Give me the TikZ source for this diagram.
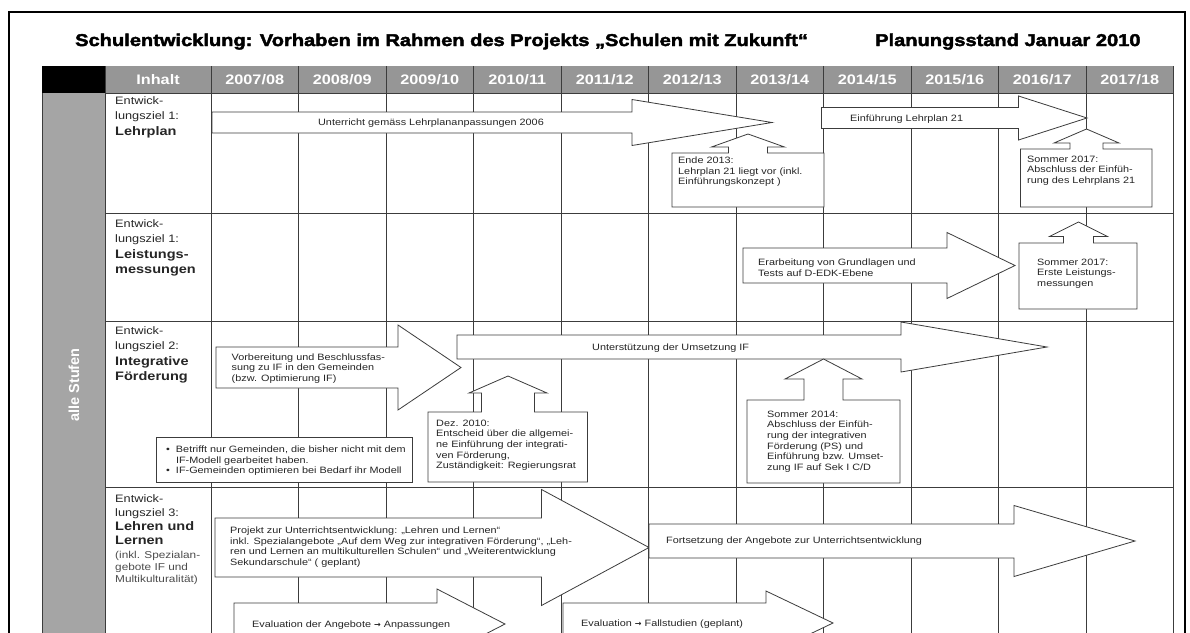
\documentclass[tikz,border=0pt]{standalone}
\usepackage{fontspec}
\setmainfont{Liberation Sans}[FakeStretch=1.18]
\newfontfamily\titelfont{Liberation Sans}[FakeStretch=1.18,BoldFeatures={FakeBold=2.5}]
\newfontfamily\stufenfont{Liberation Sans}
\newfontfamily\pfeilfont{DejaVu Sans}

\definecolor{kopfgrau}{HTML}{969696}
\definecolor{spaltgrau}{HTML}{A5A5A5}
\definecolor{linie}{HTML}{3C3C3C}
\definecolor{schrift}{HTML}{262626}

%% right arrow: start, head base, tip, middle, half body, half head
\newcommand{\pfeil}[6]{%
  \draw[pfeil] (#1,{#4-#5}) -- (#2,{#4-#5}) -- (#2,{#4-#6}) -- (#3,#4)
    -- (#2,{#4+#6}) -- (#2,{#4+#5}) -- (#1,{#4+#5}) -- cycle;}
%% box with arrow up: left, top, right, bottom, stem middle, half stem, half head, head base, tip
\newcommand{\hinweis}[9]{%
  \draw[pfeil] (#1,#2) -- ({#5-#6},#2) -- ({#5-#6},#8) -- ({#5-#7},#8) -- (#5,#9)
    -- ({#5+#7},#8) -- ({#5+#6},#8) -- ({#5+#6},#2) -- (#3,#2) -- (#3,#4) -- (#1,#4) -- cycle;}
\newcommand{\zb}[1]{{\bfseries\fontsize{12.3}{15.5}\selectfont #1}}
\newcommand{\pf}{{\pfeilfont\bfseries\fontsize{8}{10}\selectfont →}}

\tikzset{
  pfeil/.style={draw=linie, fill=white, line width=0.8pt},
  gitter/.style={draw=linie, line width=0.7pt},
  kopf/.style={text=white, inner sep=0pt, font=\bfseries\fontsize{13.8}{14}\selectfont},
  ziel/.style={anchor=north west, inner sep=0pt, align=left, text=schrift, font=\fontsize{10.8}{15.5}\selectfont},
  klein/.style={inner sep=0pt, align=left, text=schrift, font=\fontsize{9.2}{10.6}\selectfont},
  titel/.style={anchor=base west, inner sep=0pt, font=\titelfont\bfseries\fontsize{17}{20}\selectfont},
}

\begin{document}
\begin{tikzpicture}[x=1pt, y=-1pt]
\useasboundingbox (0,0) rectangle (1190,632);
\fill[white] (0,0) rectangle (1190,632);

%% title
\node[titel] (titel) at (75,46) {Schulentwicklung: Vorhaben im Rahmen des Projekts „Schulen mit Zukunft“};
\node[titel] (stand) at (875,46) {Planungsstand Januar 2010};

%% header row and left column
\fill[kopfgrau] (105,66) rectangle (1173.5,93);
\fill[black] (42,66) rectangle (105,93);
\fill[spaltgrau] (42,93) rectangle (105,640);
\draw[linie, line width=0.7pt] (42,93) -- (42,640);

%% grid
\draw[gitter] (105,66) -- (105,640);
\foreach \i in {0,...,11}
  \draw[gitter] ({211+87.5*\i},66) -- ({211+87.5*\i},640);
\foreach \y in {93,213,321,487}
  \draw[gitter] (105,\y) -- (1173.5,\y);

%% header texts
\node[kopf] (inhalt) at (158,79.5) {Inhalt};
\foreach \j [count=\i] in {2007/08,2008/09,2009/10,2010/11,2011/12,2012/13,2013/14,2014/15,2015/16,2016/17,2017/18}
  \node[kopf] (jahr\i) at ({211+87.5*\i-43.75},79.5) {\j};

%% left column
\node[rotate=90, inner sep=0pt, text=white, font=\stufenfont\bfseries\fontsize{14.5}{15}\selectfont] (stufen) at (74,385) {alle Stufen};

%% row labels
\node[ziel] (ziel1) at (115,96) {Entwick-\\lungsziel 1:\\\zb{Lehrplan}};
\node[ziel] (ziel2) at (115,219) {Entwick-\\lungsziel 1:\\\zb{Leistungs-}\\\zb{messungen}};
\node[ziel] (ziel3) at (115,326) {Entwick-\\lungsziel 2:\\\zb{Integrative}\\\zb{Förderung}};
\node[ziel, font=\fontsize{10.8}{14}\selectfont] (ziel4) at (115,494) {Entwick-\\lungsziel 3:\\\zb{Lehren und}\\\zb{Lernen}};
\node[ziel, text=black!70, font=\fontsize{10}{12}\selectfont] (ziel4b) at (115,551.3) {(inkl. Spezialan-\\gebote IF und\\Multikulturalität)};

%% arrows
\pfeil{212}{632}{772}{122.5}{10.5}{23}        %% Lehrplan 2006
\pfeil{821.5}{1018.5}{1087}{118}{10.5}{22}    %% Lehrplan 21
\pfeil{743}{947}{1015}{265.5}{17.5}{33}       %% Erarbeitung
\pfeil{216}{398}{461}{367.5}{20.5}{42.5}      %% Vorbereitung
\pfeil{457}{901}{1047}{347}{12}{25}           %% Unterstuetzung
\pfeil{215}{541.5}{649}{547.5}{29.5}{58}      %% Projekt
\pfeil{649}{1014}{1135}{541}{17}{35.5}        %% Fortsetzung
\pfeil{234}{437}{505}{624}{21}{35}            %% Evaluation 1
\pfeil{563}{766}{833}{623}{20}{32}            %% Evaluation 2

%% boxes
\hinweis{672}{153}{824}{207}{748}{19.5}{36.5}{147}{134}        %% Ende 2013
\hinweis{1020.5}{149}{1152}{207}{1086.5}{16.5}{32.5}{143}{129} %% Sommer 2017
\hinweis{1019}{243}{1137}{309}{1078.5}{15}{29}{236.5}{222}     %% Sommer 2017
\hinweis{428}{412}{587.5}{482}{508}{26.5}{39}{393}{376}        %% Dez. 2010
\hinweis{747}{400}{900}{483}{823.5}{19.5}{38.5}{379}{359}      %% Sommer 2014
\draw[pfeil] (156,437) rectangle (412.5,482);                   %% Gemeinden

%% texts
\node[klein, anchor=base] (t1) at (431,125.8) {Unterricht gemäss Lehrplananpassungen 2006};
\node[klein, anchor=base west] (t2) at (850,121.3) {Einführung Lehrplan 21};
\node[klein, anchor=north west] (t3) at (678,156.6) {Ende 2013:\\Lehrplan 21 liegt vor (inkl.\\Einführungskonzept )};
\node[klein, anchor=north west] (t4) at (1027,155.6) {Sommer 2017:\\Abschluss der Einfüh-\\rung des Lehrplans 21};
\node[klein, anchor=north west] (t5) at (758,258.6) {Erarbeitung von Grundlagen und\\Tests auf D-EDK-Ebene};
\node[klein, anchor=north west] (t6) at (1037,258.6) {Sommer 2017:\\Erste Leistungs-\\messungen};
\node[klein, anchor=north west] (t7) at (231.5,353.3) {Vorbereitung und Beschlussfas-\\sung zu IF in den Gemeinden\\(bzw. Optimierung IF)};
\node[klein, anchor=base west] (t8) at (592,350.3) {Unterstützung der Umsetzung IF};
\node[klein, anchor=north west] (t9) at (436,419.6) {Dez. 2010:\\Entscheid über die allgemei-\\ne Einführung der integrati-\\ven Förderung,\\Zuständigkeit: Regierungsrat};
\node[klein, anchor=north west] (t10) at (767,410.6) {Sommer 2014:\\Abschluss der Einfüh-\\rung der integrativen\\Förderung (PS) und\\Einführung bzw. Umset-\\zung IF auf Sek I C/D};
\node[klein, anchor=north west] (t11) at (166,444.9) {\begin{tabular}{@{}l@{\hspace{6pt}}l@{}}
  • & Betrifft nur Gemeinden, die bisher nicht mit dem\\
    & IF-Modell gearbeitet haben.\\
  • & IF-Gemeinden optimieren bei Bedarf ihr Modell\end{tabular}};
\node[klein, anchor=north west] (t12) at (230,526.6) {Projekt zur Unterrichtsentwicklung: „Lehren und Lernen“\\inkl. Spezialangebote „Auf dem Weg zur integrativen Förderung“, „Leh-\\ren und Lernen an multikulturellen Schulen“ und „Weiterentwicklung\\Sekundarschule“ ( geplant)};
\node[klein, anchor=base west] (t13) at (666,543.3) {Fortsetzung der Angebote zur Unterrichtsentwicklung};
\node[klein, anchor=base west] (t14) at (252,627.3) {Evaluation der Angebote \pf{} Anpassungen};
\node[klein, anchor=base west] (t15) at (581,626.3) {Evaluation \pf{} Fallstudien (geplant)};

%% frame
\draw[line width=2.2pt] (9,640) -- (9,12) -- (1185,12) -- (1185,640);
\end{tikzpicture}
\end{document}
